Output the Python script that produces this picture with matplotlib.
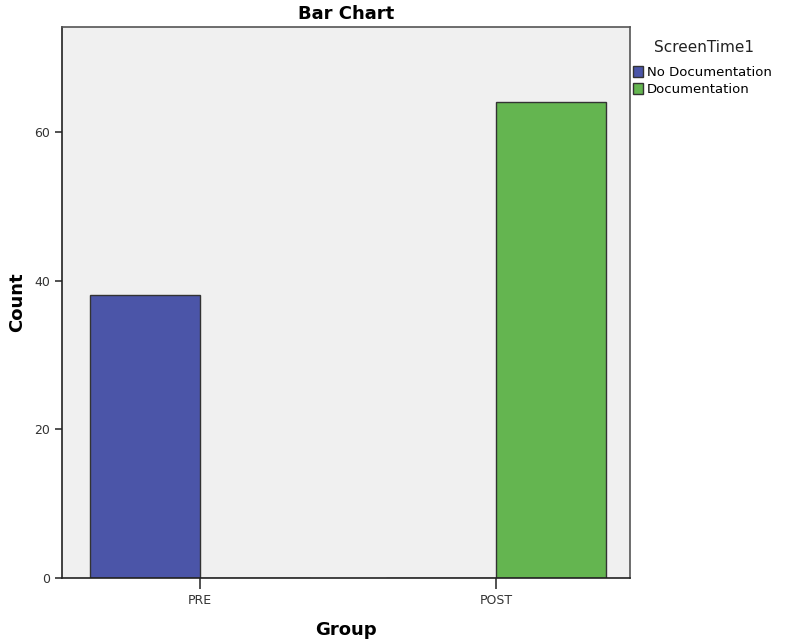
import matplotlib
matplotlib.use("Agg")
import matplotlib.pyplot as plt
import numpy as np
from matplotlib.patches import Patch

groups = ["PRE", "POST"]
series = ["No Documentation", "Documentation"]
no_doc = [38, 0]
doc = [0, 64]
colors = ["#4b55a8", "#64b550"]

plt.rcParams['font.family'] = ['DejaVu Sans']

fig = plt.figure(figsize=(7.91, 6.41), dpi=100)
ax = fig.add_axes([62/791, 1-578/641, (630-62)/791, (578-27)/641])
ax.set_facecolor("#f0f0f0")

x = np.arange(len(groups))
w = 0.372
ax.bar(x - w/2, no_doc, width=w, color=colors[0], edgecolor="#333333", linewidth=1.0)
ax.bar(x + w/2, doc, width=w, color=colors[1], edgecolor="#333333", linewidth=1.0)

ax.set_xlim(-0.466, 1.453)
ax.set_ylim(0, 74.1)
ax.set_yticks([0, 20, 40, 60])
ax.set_xticks(x)
ax.set_xticklabels(groups)
ax.tick_params(axis='both', labelsize=9, colors="#333333", length=5, width=1.2, direction='out')
ax.tick_params(axis='x', length=8)
for s in ax.spines.values():
    s.set_color("#555555")
    s.set_linewidth(1.2)
ax.spines['left'].set_color("#222222")
ax.spines['bottom'].set_color("#222222")

ax.set_title("Bar Chart", fontsize=13, fontweight='bold', pad=6)
ax.set_xlabel("Group", fontsize=13, fontweight='bold', labelpad=10)
ax.set_ylabel("Count", fontsize=13, fontweight='bold', labelpad=6)

fig.text(704/791, 1-47/641, "ScreenTime1", fontsize=11, ha='center', va='center', color="#222222")
handles = [Patch(facecolor=colors[i], edgecolor="#333333", label=series[i]) for i in range(2)]
leg = fig.legend(handles=handles, loc='upper left',
                 bbox_to_anchor=(630/791, 1-63/641), frameon=False, fontsize=9.5,
                 handlelength=0.8, handleheight=0.9,
                 handletextpad=0.3, labelspacing=0.35, borderaxespad=0, borderpad=0.2)

fig.savefig("out.png", dpi=100)
